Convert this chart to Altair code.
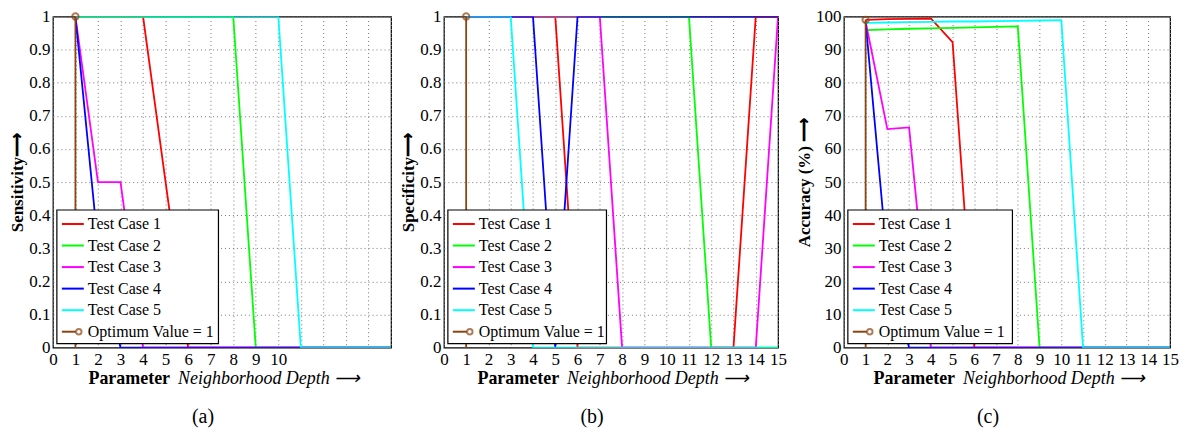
import altair as alt
import pandas as pd

depth = list(range(1, 16))
series_names = ["Test Case 1", "Test Case 2", "Test Case 3", "Test Case 4", "Test Case 5"]
series_colors = ["#ff0000", "#00ff00", "#ff00ff", "#0000ff", "#00ffff"]
opt_label = "Optimum Value = 1"
opt_color = "#8b4513"
x_ticks = list(range(0, 16))

# (a) Sensitivity
sens_tc1 = [1, 1, 1, 1, 0.5, 0, 0, 0, 0, 0, 0, 0, 0, 0, 0]
sens_tc2 = [1, 1, 1, 1, 1, 1, 1, 1, 0, 0, 0, 0, 0, 0, 0]
sens_tc3 = [1, 0.5, 0.5, 0, 0, 0, 0, 0, 0, 0, 0, 0, 0, 0, 0]
sens_tc4 = [1, 0.31, 0, 0, 0, 0, 0, 0, 0, 0, 0, 0, 0, 0, 0]
sens_tc5 = [1, 1, 1, 1, 1, 1, 1, 1, 1, 1, 0, 0, 0, 0, 0]
sens_opt = [0, 1]

# (b) Specificity
spec_tc1 = [1, 1, 1, 1, 1, 0, 0, 0, 0, 0, 0, 0, 0, 1, 1]
spec_tc2 = [1, 1, 1, 1, 1, 1, 1, 1, 1, 1, 1, 0, 0, 0, 0]
spec_tc3 = [1, 1, 1, 1, 1, 1, 1, 0, 0, 0, 0, 0, 0, 0, 1]
spec_tc4 = [1, 1, 1, 1, 0, 1, 1, 1, 1, 1, 1, 1, 1, 1, 1]
spec_tc5 = [1, 1, 1, 0, 0, 0, 0, 0, 0, 0, 0, 0, 0, 0, 0]
spec_opt = [0, 1]

# (c) Accuracy (%)
acc_tc1 = [99.0, 99.2, 99.3, 99.4, 92.3, 0, 0, 0, 0, 0, 0, 0, 0, 0, 0]
acc_tc2 = [95.9, 96.1, 96.3, 96.4, 96.6, 96.7, 96.9, 97.0, 0, 0, 0, 0, 0, 0, 0]
acc_tc3 = [98.5, 66.0, 66.5, 0, 0, 0, 0, 0, 0, 0, 0, 0, 0, 0, 0]
acc_tc4 = [98.5, 26.0, 0, 0, 0, 0, 0, 0, 0, 0, 0, 0, 0, 0, 0]
acc_tc5 = [98.1, 98.2, 98.3, 98.4, 98.5, 98.5, 98.6, 98.7, 98.8, 98.9, 0, 0, 0, 0, 0]
acc_opt = [0, 99]

FONT = "Liberation Serif"
H = 332


def panel(series_vals, opt_vals, ymax, yticks, yformat, ytitle, caption, width,
          xlabel_max, legend_right):
    rows = []
    for name, vals in zip(series_names, series_vals):
        for d, v in zip(depth, vals):
            rows.append({"depth": d, "value": v, "series": name})
    df = pd.DataFrame(rows)

    xscale = alt.Scale(domain=[0, 15], nice=False)
    yscale = alt.Scale(domain=[0, ymax], nice=False)
    xaxis = alt.Axis(values=x_ticks, labelExpr=f"datum.value <= {xlabel_max} ? datum.label : ''",
                     title=None, grid=True, ticks=False, domain=False,
                     labelFont=FONT, labelFontSize=17, labelColor="black", labelPadding=4,
                     gridDash=[1, 3], gridColor="#777777", gridWidth=1,
                     labelFlush=False, labelOverlap=False)
    yaxis = alt.Axis(values=yticks, format=yformat, title=ytitle, grid=True, ticks=False,
                     domain=False, labelFont=FONT, labelFontSize=17, labelColor="black",
                     labelPadding=3, gridDash=[1, 3], gridColor="#777777", gridWidth=1,
                     titleFont=FONT, titleFontSize=17, titleFontWeight="bold",
                     titleColor="black", titlePadding=2, labelFlush=False, labelOverlap=False)

    lines = alt.Chart(df).mark_line(strokeWidth=1.8, clip=True).encode(
        x=alt.X("depth:Q", scale=xscale, axis=xaxis),
        y=alt.Y("value:Q", scale=yscale, axis=yaxis),
        color=alt.Color("series:N", scale=alt.Scale(domain=series_names, range=series_colors),
                        legend=None),
    )

    opt_df = pd.DataFrame({"depth": [1, 1], "value": opt_vals})
    opt_line = alt.Chart(opt_df).mark_line(strokeWidth=1.8, color=opt_color).encode(
        x=alt.X("depth:Q", scale=xscale, axis=xaxis),
        y=alt.Y("value:Q", scale=yscale, axis=None),
    )
    opt_pt = alt.Chart(opt_df.iloc[[1]]).mark_point(shape="circle", size=40, filled=False,
                                                    color=opt_color, strokeWidth=2).encode(
        x=alt.X("depth:Q", scale=xscale, axis=xaxis),
        y=alt.Y("value:Q", scale=yscale, axis=None),
    )

    leg_df = pd.DataFrame({"label": series_names + [opt_label],
                           "row": list(range(6)),
                           "color": series_colors + [opt_color]})
    row_y = alt.Y("row:Q", scale=alt.Scale(domain=[0, 5], range=[208, 316]), axis=None)
    leg_box = alt.Chart(pd.DataFrame({"k": [0]})).mark_rect(
        fill="white", stroke="black", strokeWidth=1.2).encode(
        x=alt.value(4), x2=alt.value(legend_right), y=alt.value(194), y2=alt.value(328))
    leg_rule = alt.Chart(leg_df[leg_df.row < 5]).mark_rule(strokeWidth=2).encode(
        x=alt.value(9), x2=alt.value(31), y=row_y,
        color=alt.Color("color:N", scale=None, legend=None))
    leg_rule_opt = alt.Chart(leg_df[leg_df.row == 5]).mark_rule(strokeWidth=2).encode(
        x=alt.value(9), x2=alt.value(23), y=row_y,
        color=alt.Color("color:N", scale=None, legend=None))
    leg_pt = alt.Chart(leg_df[leg_df.row == 5]).mark_point(
        shape="circle", size=30, filled=False, color=opt_color, strokeWidth=2).encode(
        x=alt.value(26), y=row_y)
    leg_txt = alt.Chart(leg_df).mark_text(align="left", baseline="middle", font=FONT,
                                          fontSize=16, color="black").encode(
        x=alt.value(35), y=row_y, text="label:N")

    c = width / 2.0 + 1
    tdf = pd.DataFrame({"k": [0]})
    xt1 = alt.Chart(tdf).mark_text(text="Parameter", align="right", baseline="middle",
                                   font=FONT, fontSize=18, fontWeight="bold", color="black").encode(
        x=alt.value(c - 53), y=alt.value(H + 31))
    xt2 = alt.Chart(tdf).mark_text(text="Neighborhood Depth \u27f6", align="left",
                                   baseline="middle", font=FONT, fontSize=18,
                                   fontStyle="italic", color="black").encode(
        x=alt.value(c - 45), y=alt.value(H + 31))
    cap = alt.Chart(tdf).mark_text(text=caption, align="center", baseline="middle",
                                   font=FONT, fontSize=20, color="black").encode(
        x=alt.value(width / 2.0 - 19), y=alt.value(H + 70))

    return alt.layer(lines, opt_line, opt_pt, leg_box, leg_rule, leg_rule_opt, leg_pt, leg_txt,
                     xt1, xt2, cap).resolve_scale(y="independent").properties(
        width=width, height=H)


def spacer(w):
    return alt.Chart(pd.DataFrame({"k": [0]})).mark_point(opacity=0).encode(
        x=alt.value(0), y=alt.value(0)).properties(
        width=w, height=H, view=alt.ViewBackground(strokeOpacity=0))


sens_ticks = [round(i * 0.1, 1) for i in range(11)]
acc_ticks = list(range(0, 101, 10))

pa = panel([sens_tc1, sens_tc2, sens_tc3, sens_tc4, sens_tc5], sens_opt, 1, sens_ticks, "~g",
           "Sensitivity\u27f6", "(a)", 339, 10, 166)
pb = panel([spec_tc1, spec_tc2, spec_tc3, spec_tc4, spec_tc5], spec_opt, 1, sens_ticks, "~g",
           "Specificity\u27f6", "(b)", 335, 15, 163)
pc = panel([acc_tc1, acc_tc2, acc_tc3, acc_tc4, acc_tc5], acc_opt, 100, acc_ticks, "d",
           "Accuracy (%) \u27f6", "(c)", 327, 15, 169)

chart = alt.hconcat(pa, spacer(53), pb, spacer(66), pc, spacing=0, bounds="flush").properties(
    padding={"left": 0, "top": -2, "right": 0, "bottom": 0}
).configure(
    font=FONT
).configure_view(
    stroke="black", strokeWidth=1.2
).properties(background="white")

chart.save("out.html", embed_options={"renderer": "svg", "actions": False})
